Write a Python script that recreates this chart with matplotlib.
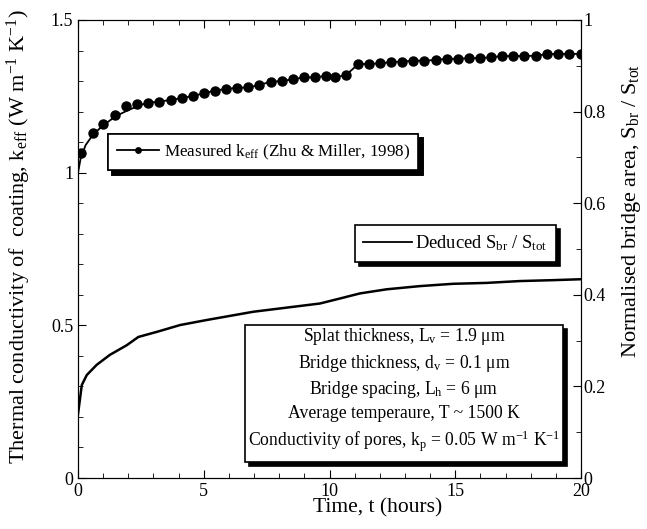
import matplotlib
matplotlib.use('Agg')
import matplotlib.pyplot as plt
from matplotlib.ticker import MultipleLocator
from matplotlib.patches import Rectangle
from matplotlib.transforms import offset_copy

plt.rcParams['font.family'] = ['Liberation Serif', 'DejaVu Serif']
plt.rcParams['mathtext.fontset'] = 'custom'
plt.rcParams['mathtext.rm'] = 'Liberation Serif'
plt.rcParams['mathtext.it'] = 'Liberation Serif:italic'

# measured k_eff (Zhu & Miller, 1998)
t_meas = [0.12, 0.58, 1.01, 1.46, 1.90, 2.33, 2.80, 3.23, 3.69, 4.12, 4.56, 5.01,
          5.45, 5.88, 6.33, 6.77, 7.21, 7.66, 8.10, 8.54, 8.99, 9.42, 9.86, 10.22,
          10.66, 11.15, 11.58, 12.01, 12.45, 12.90, 13.33, 13.77, 14.22, 14.66,
          15.10, 15.55, 15.98, 16.42, 16.87, 17.31, 17.75, 18.20, 18.64, 19.07,
          19.52, 19.99]
k_meas = [1.066, 1.131, 1.160, 1.189, 1.218, 1.224, 1.229, 1.233, 1.238, 1.244,
          1.251, 1.260, 1.269, 1.274, 1.278, 1.279, 1.287, 1.298, 1.300, 1.306,
          1.312, 1.312, 1.317, 1.312, 1.320, 1.356, 1.356, 1.358, 1.362, 1.364,
          1.367, 1.367, 1.369, 1.373, 1.373, 1.375, 1.375, 1.378, 1.382, 1.382,
          1.382, 1.383, 1.388, 1.389, 1.389, 1.389]

# curve through measured values, starting at t = 0
t_fit = [0.0, 0.1, 0.3, 0.6, 1.0, 1.5, 2.0, 2.5] + t_meas[6:]
k_fit = [1.0, 1.045, 1.09, 1.125, 1.155, 1.185, 1.205, 1.222] + k_meas[6:]

# deduced normalised bridge area S_br / S_tot
t_ded = [0.0, 0.15, 0.35, 0.74, 1.27, 1.94, 2.40, 3.13, 4.06, 5.12, 6.97, 9.62,
         10.42, 11.21, 12.27, 13.60, 14.91, 16.25, 17.57, 18.90, 20.0]
s_ded = [0.14, 0.203, 0.225, 0.247, 0.269, 0.290, 0.308, 0.319, 0.334, 0.345,
         0.363, 0.381, 0.392, 0.403, 0.412, 0.419, 0.424, 0.426, 0.430, 0.432,
         0.434]

params = ('Splat thickness, L$_{\\rm v}$ = 1.9 μm\n'
          'Bridge thickness, d$_{\\rm v}$ = 0.1 μm\n'
          'Bridge spacing, L$_{\\rm h}$ = 6 μm\n'
          'Average temperaure, T ~ 1500 K\n'
          'Conductivity of pores, k$_{\\rm p}$ = 0.05 W m$^{-1}$ K$^{-1}$')

fig = plt.figure(figsize=(6.47, 5.29), dpi=100)
ax = fig.add_axes([0.1206, 0.0964, 0.7774, 0.8658])
ax2 = ax.twinx()

ax.plot(t_fit, k_fit, color='black', lw=1.3)
ax.plot(t_meas, k_meas, 'o', color='black', ms=6.5)
meas_handle, = ax.plot([], [], '-o', color='black', ms=6.5, lw=1.3)
ax2.plot(t_ded, s_ded, color='black', lw=1.8)
ded_handle, = ax2.plot([], [], color='black', lw=1.3)

ax.set_xlim(0, 20)
ax.set_ylim(0, 1.5)
ax2.set_ylim(0, 1)

ax.xaxis.set_major_locator(MultipleLocator(5))
ax.xaxis.set_minor_locator(MultipleLocator(1))
ax.yaxis.set_major_locator(MultipleLocator(0.5))
ax.yaxis.set_minor_locator(MultipleLocator(0.1))
ax2.yaxis.set_major_locator(MultipleLocator(0.2))
ax2.yaxis.set_minor_locator(MultipleLocator(0.1))
ax.yaxis.set_major_formatter(plt.FuncFormatter(lambda v, p: '%g' % v))
ax2.yaxis.set_major_formatter(plt.FuncFormatter(lambda v, p: '%g' % v))

ax.tick_params(which='both', direction='in', top=True, labelsize=13)
ax.tick_params(which='major', length=6)
ax.tick_params(which='minor', length=3.5)
ax2.tick_params(which='both', direction='in', labelsize=13, pad=2)
ax2.tick_params(which='major', length=6)
ax2.tick_params(which='minor', length=3.5)

ax.set_xlabel('Time, t (hours)', fontsize=15.5)
ax.xaxis.set_label_coords(0.595, -0.045)
ax.set_ylabel('Thermal conductivity of  coating, k$_{\\rm eff}$ (W m$^{-1}$ K$^{-1}$)',
              fontsize=16)
ax.yaxis.set_label_coords(-0.09, 0.526)
ax2.set_ylabel('Normalised bridge area, S$_{\\rm br}$ / S$_{\\rm tot}$', fontsize=16)
ax2.yaxis.set_label_coords(1.077, 0.583)

shadow_kw = {'ox': 3, 'oy': -3, 'color': 'black', 'alpha': 1}

leg1 = ax.legend([meas_handle], ['Measured k$_{\\rm eff}$ (Zhu & Miller, 1998)'],
                 loc='upper left', bbox_to_anchor=(0.0596, 0.751), borderaxespad=0,
                 fontsize=12.3, fancybox=False, shadow=shadow_kw, edgecolor='black',
                 framealpha=1, handlelength=2.5, handletextpad=0.25, borderpad=0.5,
                 markerscale=0.6)
leg1.get_frame().set_linewidth(1.2)
ax.add_artist(leg1)

leg2 = ax2.legend([ded_handle], ['Deduced S$_{\\rm br}$ / S$_{\\rm tot}$'],
                  loc='upper left', bbox_to_anchor=(0.551, 0.552), borderaxespad=0,
                  fontsize=13.3, fancybox=False, shadow=shadow_kw, edgecolor='black',
                  framealpha=1, handlelength=2.6, handletextpad=0.2, borderpad=0.45)
leg2.get_frame().set_linewidth(1.2)

# parameter box with drop shadow
sh = offset_copy(ax2.transAxes, fig=fig, x=4, y=-4, units='dots')
ax2.add_patch(Rectangle((0.332, 0.035), 0.632, 0.299, transform=sh,
                        fc='black', ec='black', lw=1.2, zorder=4))
ax2.add_patch(Rectangle((0.332, 0.035), 0.632, 0.299, transform=ax2.transAxes,
                        fc='white', ec='black', lw=1.2, zorder=5))
ax2.text(0.648, 0.192, params, transform=ax2.transAxes, ha='center', va='center',
         fontsize=12.7, multialignment='center', linespacing=1.37, zorder=6)

fig.savefig('out.png', dpi=100)
